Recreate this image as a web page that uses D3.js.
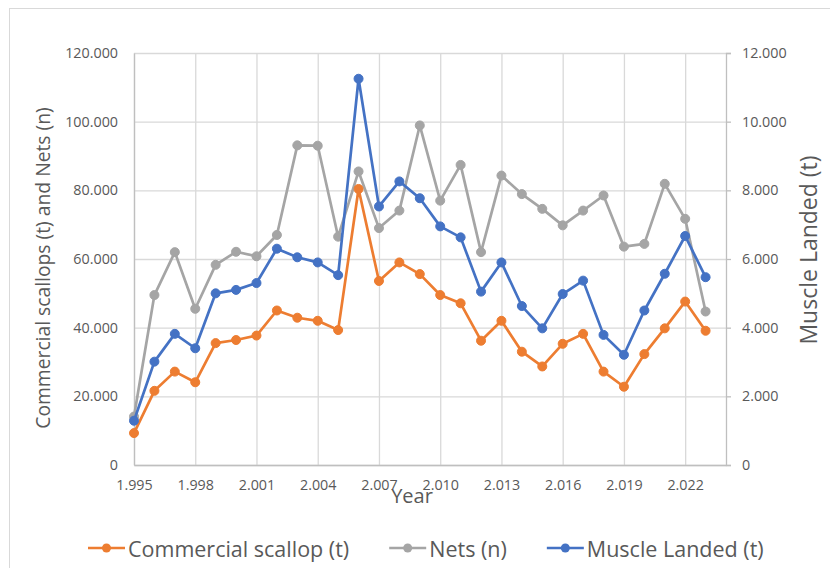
<!DOCTYPE html>
<html>
<head>
<meta charset="utf-8">
<script src="https://cdn.jsdelivr.net/npm/d3@7/dist/d3.min.js"></script>
<style>
  html, body { margin: 0; padding: 0; background: #fff; }
  svg { display: block; font-family: "Open Sans", "Noto Sans", sans-serif; }
</style>
</head>
<body>
<svg id="chart" width="830" height="568"></svg>
<script>
// Annual series, 1995–2023
const years = d3.range(1995, 2024);
const commercialScallop = [9.3, 21.6, 27.2, 24.1, 35.5, 36.4, 37.7, 45.0, 42.9, 42.0, 39.3, 80.4, 53.6, 59.0, 55.6, 49.5, 47.1, 36.2, 42.0, 33.0, 28.7, 35.3, 38.2, 27.2, 22.8, 32.3, 39.8, 47.6, 39.1].map(v => v * 1000);
const nets = [14.1, 49.5, 62.0, 45.5, 58.3, 62.1, 60.8, 67.0, 93.1, 93.0, 66.5, 85.5, 69.0, 74.1, 98.9, 77.0, 87.4, 62.0, 84.3, 78.9, 74.6, 69.8, 74.1, 78.5, 63.6, 64.4, 81.9, 71.7, 44.7].map(v => v * 1000);
const muscleLanded = [1.29, 3.01, 3.82, 3.40, 5.00, 5.10, 5.30, 6.30, 6.05, 5.90, 5.53, 11.25, 7.53, 8.26, 7.77, 6.95, 6.63, 5.05, 5.90, 4.63, 3.98, 4.98, 5.37, 3.79, 3.21, 4.50, 5.57, 6.67, 5.47].map(v => v * 1000);

const leftTicks = [0, 20000, 40000, 60000, 80000, 100000, 120000];
const rightTicks = [0, 2000, 4000, 6000, 8000, 10000, 12000];
const yearTicks = d3.range(1995, 2024, 3);

const seriesNames = ["Commercial scallop (t)", "Nets (n)", "Muscle Landed (t)"];
const seriesColors = ["#ED7D31", "#A5A5A5", "#4472C4"];

const fmt = d3.formatLocale({ decimal: ",", thousands: ".", grouping: [3], currency: ["", ""] }).format(",d");

const svg = d3.select("#chart");
const plot = { left: 134, right: 726, top: 53, bottom: 465 };

const x = d3.scaleLinear().domain([1995, 2024]).range([plot.left, plot.right]);
const yL = d3.scaleLinear().domain([0, 120000]).range([plot.bottom, plot.top]);
const yR = d3.scaleLinear().domain([0, 12000]).range([plot.bottom, plot.top]);

const textColor = "#595959";
const gridColor = "#D9D9D9";
const axisColor = "#BFBFBF";

// Chart frame
svg.append("rect")
  .attr("x", 9.5).attr("y", 8.5)
  .attr("width", 900).attr("height", 700)
  .attr("fill", "none").attr("stroke", gridColor).attr("stroke-width", 1);

// Horizontal gridlines
svg.append("g")
  .attr("transform", `translate(${plot.left},0)`)
  .call(d3.axisLeft(yL).tickValues(leftTicks).tickSize(-(plot.right - plot.left)).tickFormat(""))
  .call(g => g.select(".domain").remove())
  .call(g => g.selectAll("line").attr("stroke", gridColor).attr("stroke-width", 1.3));

// Vertical gridlines
svg.append("g")
  .attr("transform", `translate(0,${plot.bottom})`)
  .call(d3.axisBottom(x).tickValues(yearTicks).tickSize(-(plot.bottom - plot.top)).tickFormat(""))
  .call(g => g.select(".domain").remove())
  .call(g => g.selectAll("line").attr("stroke", gridColor).attr("stroke-width", 1.3));

// Left axis labels
svg.append("g")
  .attr("transform", `translate(${plot.left},0)`)
  .call(d3.axisLeft(yL).tickValues(leftTicks).tickSize(0).tickPadding(16).tickFormat(fmt))
  .call(g => g.select(".domain").attr("stroke", axisColor).attr("stroke-width", 1.3))
  .call(g => g.selectAll("text").attr("fill", textColor).style("font-size", "14.3px").style("font-family", "'Open Sans', sans-serif"));

// Right axis
svg.append("g")
  .attr("transform", `translate(${plot.right},0)`)
  .call(d3.axisRight(yR).tickValues(rightTicks).tickSize(5).tickPadding(11).tickFormat(fmt))
  .call(g => g.select(".domain").attr("stroke", axisColor).attr("stroke-width", 1.3))
  .call(g => g.selectAll("line").attr("stroke", axisColor).attr("stroke-width", 1.3))
  .call(g => g.selectAll("text").attr("fill", textColor).style("font-size", "14.3px").style("font-family", "'Open Sans', sans-serif"));

// Bottom axis
svg.append("g")
  .attr("transform", `translate(0,${plot.bottom})`)
  .call(d3.axisBottom(x).tickValues(yearTicks).tickSize(0).tickPadding(15).tickFormat(fmt))
  .call(g => g.select(".domain").attr("stroke", axisColor).attr("stroke-width", 1.3))
  .call(g => g.selectAll("text").attr("fill", textColor).style("font-size", "14.3px").style("font-family", "'Open Sans', sans-serif"));

// Series
const series = [
  { name: seriesNames[0], values: commercialScallop, y: yL, color: seriesColors[0] },
  { name: seriesNames[1], values: nets, y: yL, color: seriesColors[1] },
  { name: seriesNames[2], values: muscleLanded, y: yR, color: seriesColors[2] }
];
const drawOrder = [1, 0, 2];

drawOrder.forEach(i => {
  const s = series[i];
  const pts = years.map((yr, j) => [yr, s.values[j]]);
  const line = d3.line().x(d => x(d[0])).y(d => s.y(d[1]));
  const g = svg.append("g");
  g.append("path")
    .attr("d", line(pts))
    .attr("fill", "none")
    .attr("stroke", s.color)
    .attr("stroke-width", 2.7)
    .attr("stroke-linejoin", "round");
  g.selectAll("circle").data(pts).join("circle")
    .attr("cx", d => x(d[0]))
    .attr("cy", d => s.y(d[1]))
    .attr("r", 4.5)
    .attr("fill", s.color)
    .attr("stroke", s.color)
    .attr("stroke-width", 1);
});

// Axis titles
svg.append("text")
  .attr("transform", "translate(42,268) rotate(-90)")
  .attr("text-anchor", "middle").attr("dominant-baseline", "central")
  .attr("fill", textColor).style("font-size", "19.3px")
  .text("Commercial scallops (t) and Nets (n)");

svg.append("text")
  .attr("transform", "translate(808,250) rotate(-90)")
  .attr("text-anchor", "middle").attr("dominant-baseline", "central")
  .attr("fill", textColor).style("font-size", "23px")
  .text("Muscle Landed (t)");

svg.append("text")
  .attr("x", 412).attr("y", 503)
  .attr("text-anchor", "middle")
  .attr("fill", textColor).style("font-size", "20px")
  .text("Year");

// Legend
const legend = svg.append("g").attr("transform", "translate(0,548)");
let lx = 88;
series.forEach(s => {
  const item = legend.append("g").attr("transform", `translate(${lx},0)`);
  item.append("line").attr("x1", 0).attr("x2", 37).attr("y1", 0).attr("y2", 0)
    .attr("stroke", s.color).attr("stroke-width", 2.7);
  item.append("circle").attr("cx", 18.5).attr("cy", 0).attr("r", 4.5).attr("fill", s.color);
  const t = item.append("text").attr("x", 40).attr("y", 0)
    .attr("dominant-baseline", "central")
    .attr("fill", textColor).style("font-size", "21.5px")
    .text(s.name);
  lx += 40 + t.node().getComputedTextLength() + 40;
});
</script>
</body>
</html>
